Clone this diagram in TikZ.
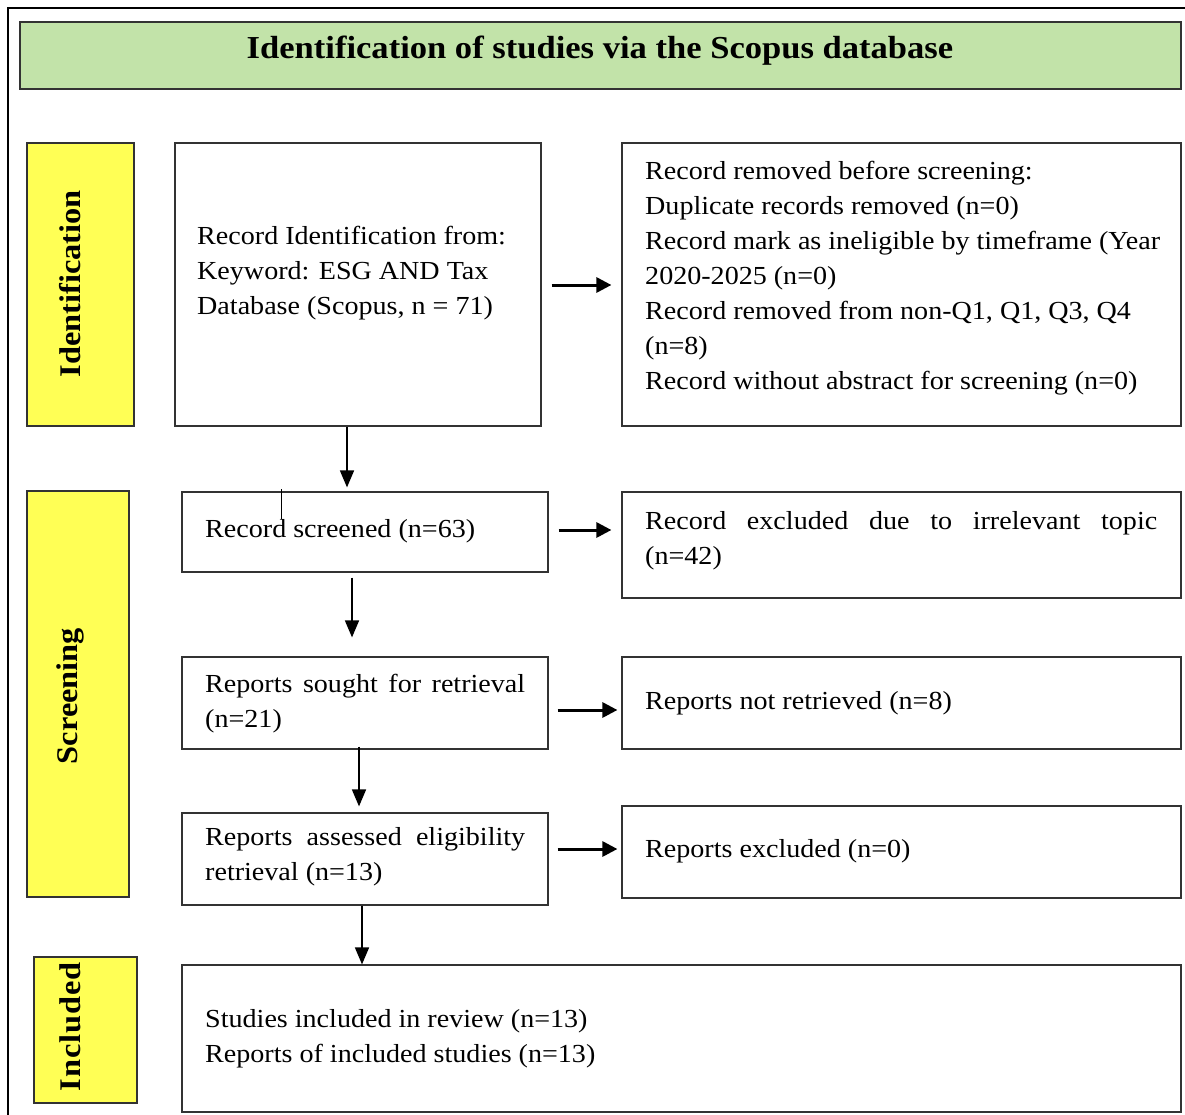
\documentclass[tikz,border=0pt]{standalone}
\usepackage{fontspec}
\setmainfont[FakeStretch=1.08]{Liberation Serif}
\usetikzlibrary{arrows.meta}
\definecolor{headgreen}{HTML}{C2E3A9}
\definecolor{stageyellow}{HTML}{FFFF55}
\begin{document}
\begin{tikzpicture}[x=1pt, y=-1pt,
    box/.style={draw=black!80, line width=1.2pt, inner sep=0},
    stage/.style={draw=black!80, line width=1.2pt, fill=stageyellow, inner sep=0},
    txt/.style={inner sep=0, align=left, font=\fontsize{26}{35}\selectfont},
    stagetxt/.style={rotate=90, inner sep=0, font=\fontsize{30}{32}\selectfont\bfseries},
    down/.style={draw, line width=1.6pt, -{Triangle[width=14pt, length=17pt]}},
    side/.style={draw, line width=3pt, -{Triangle[width=15pt, length=15pt]}, shorten <=10pt, shorten >=10pt}]
\useasboundingbox (0,0) rectangle (1185,1115);
\path[draw, line width=2pt] (8,1115) -- (8,8) -- (1185,8);

\node[box, fill=headgreen, minimum width=1161, minimum height=67] (head) at (600.5,55.5) {};
\node[inner sep=0, font=\fontsize{32}{34}\selectfont\bfseries] (headtxt) at (600,51) {Identification of studies via the Scopus database};

\node[stage, minimum width=107, minimum height=283] (stident) at (80.5,284.5) {};
\node[stage, minimum width=102, minimum height=406] (stscreen) at (78,694) {};
\node[stage, minimum width=103, minimum height=146] (stincl) at (85.5,1030) {};
\node[stagetxt] (stidenttxt) at (70,284) {Identification};
\node[stagetxt] (stscreentxt) at (70,696) {Screening};
\node[stagetxt, font=\fontsize{30}{32}\selectfont\bfseries\addfontfeature{LetterSpace=3}] (stincltxt) at (70,1027) {Included};

\node[box, minimum width=366, minimum height=283] (ident) at (358,284.5) {};
\node[box, minimum width=559, minimum height=283] (removed) at (901.5,284.5) {};
\node[box, minimum width=366, minimum height=80] (screened) at (365,532) {};
\node[box, minimum width=559, minimum height=106] (excl) at (901.5,545) {};
\node[box, minimum width=366, minimum height=92] (sought) at (365,703) {};
\node[box, minimum width=559, minimum height=92] (notret) at (901.5,703) {};
\node[box, minimum width=366, minimum height=92] (assessed) at (365,859) {};
\node[box, minimum width=559, minimum height=92] (exclrep) at (901.5,852) {};
\node[box, minimum width=999, minimum height=147] (incl) at (681.5,1038.5) {};

\node[txt, anchor=west] (identtxt) at (197,273) {Record Identification from:\\Keyword: ESG AND Tax\\Database (Scopus, n = 71)};
\node[txt, anchor=west] (removedtxt) at (645,278) {Record removed before screening:\\Duplicate records removed (n=0)\\Record mark as ineligible by timeframe (Year\\2020-2025 (n=0)\\Record removed from non-Q1, Q1, Q3, Q4\\(n=8)\\Record without abstract for screening (n=0)};
\node[txt, anchor=west] (screenedtxt) at (205,531) {Record screened (n=63)};
\node[txt, anchor=west] (excltxt) at (645,541) {\makebox[512pt][s]{Record excluded due to irrelevant topic}\\(n=42)};
\node[txt, anchor=west] (soughttxt) at (205,704) {\makebox[320pt][s]{Reports sought for retrieval}\\(n=21)};
\node[txt, anchor=west] (notrettxt) at (645,703) {Reports not retrieved (n=8)};
\node[txt, anchor=west] (assessedtxt) at (205,857) {\makebox[320pt][s]{Reports assessed eligibility}\\retrieval (n=13)};
\node[txt, anchor=west] (exclreptxt) at (645,851) {Reports excluded (n=0)};
\node[txt, anchor=west] (incltxt) at (205,1039) {Studies included in review (n=13)\\Reports of included studies (n=13)};

% stray mark
\path[draw, line width=1.6pt] ([xshift=100pt,yshift=2pt]screened.north west) -- ++(0,30);

\path[down] (ident.south -| 347,0) -- ([yshift=4pt]screened.north -| 347,0);
\path[down, shorten <=5pt] (screened.south -| 352,0) -- ([yshift=19pt]sought.north -| 352,0);
\path[down, shorten <=-3pt] (sought.south -| 359,0) -- ([yshift=6pt]assessed.north -| 359,0);
\path[down] (assessed.south -| 362,0) -- (incl.north -| 362,0);

\path[side] (ident.east |- 0,285) -- (removed.west |- 0,285);
\path[side] (screened.east |- 0,530) -- (excl.west |- 0,530);
\path[side, shorten <=9pt, shorten >=4pt] (sought.east |- 0,710) -- (notret.west |- 0,710);
\path[side, shorten <=9pt, shorten >=4pt] (assessed.east |- 0,849) -- (exclrep.west |- 0,849);
\end{tikzpicture}
\end{document}
